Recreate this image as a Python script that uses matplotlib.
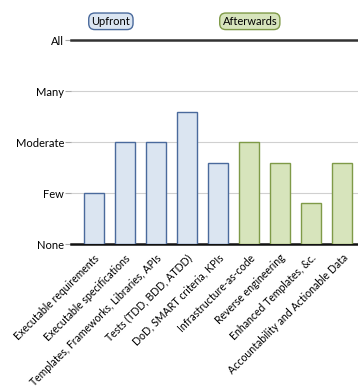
import matplotlib.pyplot as plt
import numpy as np

plt.rcParams['font.family'] = ['Lato', 'DejaVu Sans']

categories = ["Executable requirements", "Executable specifications",
              "Templates, Frameworks, Libraries, APIs", "Tests (TDD, BDD, ATDD)",
              "DoD, SMART criteria, KPIs", "Infrastructure-as-code",
              "Reverse engineering", "Enhanced Templates, &c.",
              "Accountability and Actionable Data"]
values = [1.0, 2.0, 2.0, 2.6, 1.6, 2.0, 1.6, 0.8, 1.6]
groups = ["Upfront"] * 5 + ["Afterwards"] * 4
levels = ["None", "Few", "Moderate", "Many", "All"]

fills = {"Upfront": "#dbe5f1", "Afterwards": "#d7e4bc"}
edges = {"Upfront": "#4a6a9c", "Afterwards": "#7f9a48"}

fig = plt.figure(figsize=(3.58, 3.90), dpi=100)
ax = fig.add_axes([0.198, 0.374, 0.802, 0.523])

x = np.arange(len(categories))
ax.bar(x, values, width=0.64,
       color=[fills[g] for g in groups],
       edgecolor=[edges[g] for g in groups], linewidth=1.0, zorder=3)

ax.set_xlim(-0.74, 8.52)
ax.set_ylim(0, 4)
ax.set_yticks(range(5))
ax.set_yticklabels(levels, fontsize=8)
for y in (1, 2, 3):
    ax.axhline(y, color="#d0d0d0", linewidth=0.8, zorder=1)
ax.axhline(4, color="#333333", linewidth=1.8, zorder=2, clip_on=False)

for s in ("top", "right", "left"):
    ax.spines[s].set_visible(False)
ax.spines["bottom"].set_linewidth(1.8)
ax.spines["bottom"].set_color("#111111")
ax.tick_params(axis="y", length=4, color="#aaaaaa", pad=1)
ax.tick_params(axis="x", length=0, pad=6)

ax.set_xticks(x)
ax.set_xticklabels(categories, rotation=45, ha="right", rotation_mode="anchor",
                   fontsize=7.6)

for name, xc in (("Upfront", 0.55), ("Afterwards", 5.03)):
    ax.text(xc, 4.37, name, ha="center", va="center", fontsize=8,
            bbox=dict(boxstyle="round,pad=0.25,rounding_size=0.55",
                      fc=fills[name], ec=edges[name], lw=1.0), clip_on=False)

fig.savefig("out.png", dpi=100)
